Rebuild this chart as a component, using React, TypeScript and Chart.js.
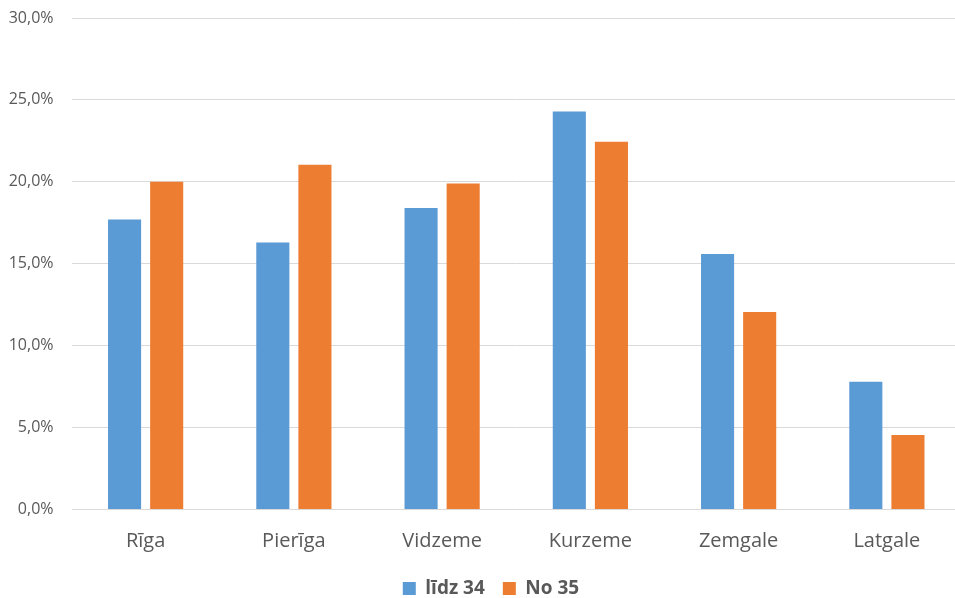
import React, { useEffect, useRef } from "react";
import { Chart, registerables } from "chart.js";

Chart.register(...registerables);

const categories = ["Rīga", "Pierīga", "Vidzeme", "Kurzeme", "Zemgale", "Latgale"];
const seriesNames = ["līdz 34", "No 35"];
const lidz34 = [17.7, 16.3, 18.4, 24.3, 15.6, 7.8];
const no35 = [20.0, 21.05, 19.9, 22.45, 12.05, 4.55];
const colors = ["#5b9bd5", "#ed7d31"];

const CANVAS_W = 962;
const CANVAS_H = 608;
const FONT = "'Open Sans', 'Noto Sans', sans-serif";

const legendShift = {
  id: "legendShift",
  afterLayout(chart: any) {
    const lg = chart.legend;
    if (lg) {
      lg.left += 10.5;
      lg.right += 10.5;
    }
  },
};

export default function App() {
  const ref = useRef<HTMLCanvasElement | null>(null);

  useEffect(() => {
    if (!ref.current) return;
    const chart = new Chart(ref.current, {
      type: "bar",
      data: {
        labels: categories,
        datasets: [
          { label: seriesNames[0], data: lidz34, backgroundColor: colors[0], borderWidth: 0 },
          { label: seriesNames[1], data: no35, backgroundColor: colors[1], borderWidth: 0 },
        ],
      },
      plugins: [legendShift],
      options: {
        responsive: false,
        animation: false,
        devicePixelRatio: 1,
        layout: { padding: { top: 18, left: 0, right: 1, bottom: 0 } },
        datasets: {
          bar: { categoryPercentage: 0.568, barPercentage: 0.786 },
        } as any,
        plugins: {
          tooltip: { enabled: false },
          legend: {
            position: "bottom",
            labels: {
              boxWidth: 13,
              boxHeight: 13,
              padding: 18,
              color: "#595959",
              font: { family: FONT, size: 19, weight: "bold" },
            },
          },
        },
        scales: {
          x: {
            grid: { display: false, drawTicks: false },
            border: { display: false },
            ticks: {
              padding: 20,
              color: "#595959",
              font: { family: FONT, size: 20 },
            },
            afterFit: (scale: any) => {
              scale.height = 51.5;
            },
          },
          y: {
            min: 0,
            max: 30,
            grid: { color: "#d9d9d9", lineWidth: 1, drawTicks: false },
            border: { display: false },
            ticks: {
              stepSize: 5,
              padding: 18,
              color: "#595959",
              font: { family: FONT, size: 16 },
              callback: (v: any) => Number(v).toFixed(1).replace(".", ",") + "%",
            },
            afterFit: (scale: any) => {
              scale.width = 71.5;
              scale.paddingTop = 0;
              scale.paddingBottom = 0;
            },
          },
        },
      },
    });
    return () => chart.destroy();
  }, []);

  return (
    <div
      style={{
        position: "absolute",
        left: 0,
        top: 0,
        width: 955,
        height: 598,
        overflow: "hidden",
        background: "#fff",
      }}
    >
      <canvas ref={ref} width={CANVAS_W} height={CANVAS_H} style={{ display: "block" }} />
    </div>
  );
}
